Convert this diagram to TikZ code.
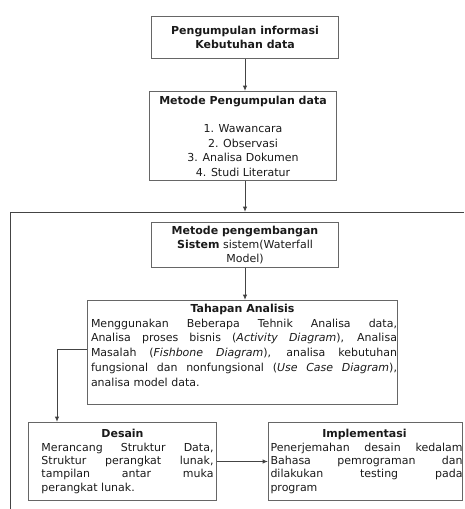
\documentclass[tikz,border=0pt]{standalone}
\usepackage{fontspec}
\setmainfont{DejaVu Sans}
\usetikzlibrary{arrows.meta,calc}
\definecolor{bd}{HTML}{666666}
\definecolor{ln}{HTML}{444444}
\definecolor{tx}{HTML}{1A1A1A}
\newcommand{\jline}[2]{\makebox[#1][s]{#2}}
\begin{document}
\begin{tikzpicture}[x=1pt,y=-1pt,
  box/.style={draw=bd, line width=1pt, text=tx, inner sep=0pt, anchor=north west,
    font=\fontsize{11}{14.5}\selectfont, align=center},
  lbox/.style={box, align=left},
  arr/.style={draw=ln, line width=1pt, -{Latex[length=5.5pt,width=4.5pt,fill=black]}},
  frame/.style={draw=ln, line width=1pt}
]
\useasboundingbox (0,0) rectangle (464,509);

\node[box, minimum width=187pt, minimum height=42pt, font=\fontsize{11}{14.7}\selectfont\bfseries]
  (b1) at (151,16) {Pengumpulan informasi\\Kebutuhan data};

\node[box, minimum width=187pt, minimum height=89pt, font=\fontsize{11}{14.4}\selectfont]
  (b2) at (149,91) {\textbf{Metode Pengumpulan data}\\[14.4pt]1. Wawancara\\2. Observasi\\3. Analisa Dokumen\\4. Studi Literatur};

\coordinate (ftop) at (245,212);
\draw[frame] (10,509) -- (10,212) -- (464,212);

\node[box, minimum width=187pt, minimum height=45pt, font=\fontsize{11}{14.3}\selectfont]
  (b3) at (151,222) {\textbf{Metode pengembangan}\\\textbf{Sistem} sistem(Waterfall\\Model)};

\node[lbox, minimum width=310pt, minimum height=104pt, font=\fontsize{11}{14.8}\selectfont]
  (b4) at (87,300) {\makebox[310pt]{\bfseries Tahapan Analisis}\\
  \hspace*{3.5pt}\jline{306pt}{Menggunakan Beberapa Tehnik Analisa data,}\\
  \hspace*{3.5pt}\jline{306pt}{Analisa proses bisnis (\textit{Activity Diagram}), Analisa}\\
  \hspace*{3.5pt}\jline{306pt}{Masalah (\textit{Fishbone Diagram}), analisa kebutuhan}\\
  \hspace*{3.5pt}\jline{306pt}{fungsional dan nonfungsional (\textit{Use Case Diagram}),}\\
  \hspace*{3.5pt}analisa model data.\\
  \mbox{}};

\node[lbox, minimum width=188pt, minimum height=78pt, font=\fontsize{11}{13.3}\selectfont]
  (d) at (28,422) {\makebox[188pt]{\bfseries Desain}\\
  \hspace*{13pt}\jline{172pt}{Merancang Struktur Data,}\\
  \hspace*{13pt}\jline{172pt}{Struktur perangkat lunak,}\\
  \hspace*{13pt}\jline{172pt}{tampilan antar muka}\\
  \hspace*{13pt}perangkat lunak.};

\node[lbox, minimum width=194pt, minimum height=78pt, font=\fontsize{11}{13.3}\selectfont]
  (im) at (268,422) {\makebox[192pt]{\bfseries Implementasi}\\
  \hspace*{2pt}\jline{192pt}{Penerjemahan desain kedalam}\\
  \hspace*{2pt}\jline{192pt}{Bahasa pemrograman dan}\\
  \hspace*{2pt}\jline{192pt}{dilakukan testing pada}\\
  \hspace*{2pt}program};

\draw[arr] (b1.south) -- (b1.south |- b2.north);
\draw[arr] (b1.south |- b2.south) -- (ftop);
\draw[arr] (b3.south) -- (b3.south |- b4.north);
\draw[arr] ($(b4.west)+(0,-3)$) -| ($(d.north west)+(29,0)$);
\draw[arr] (d.east) -- (im.west);
\end{tikzpicture}
\end{document}
